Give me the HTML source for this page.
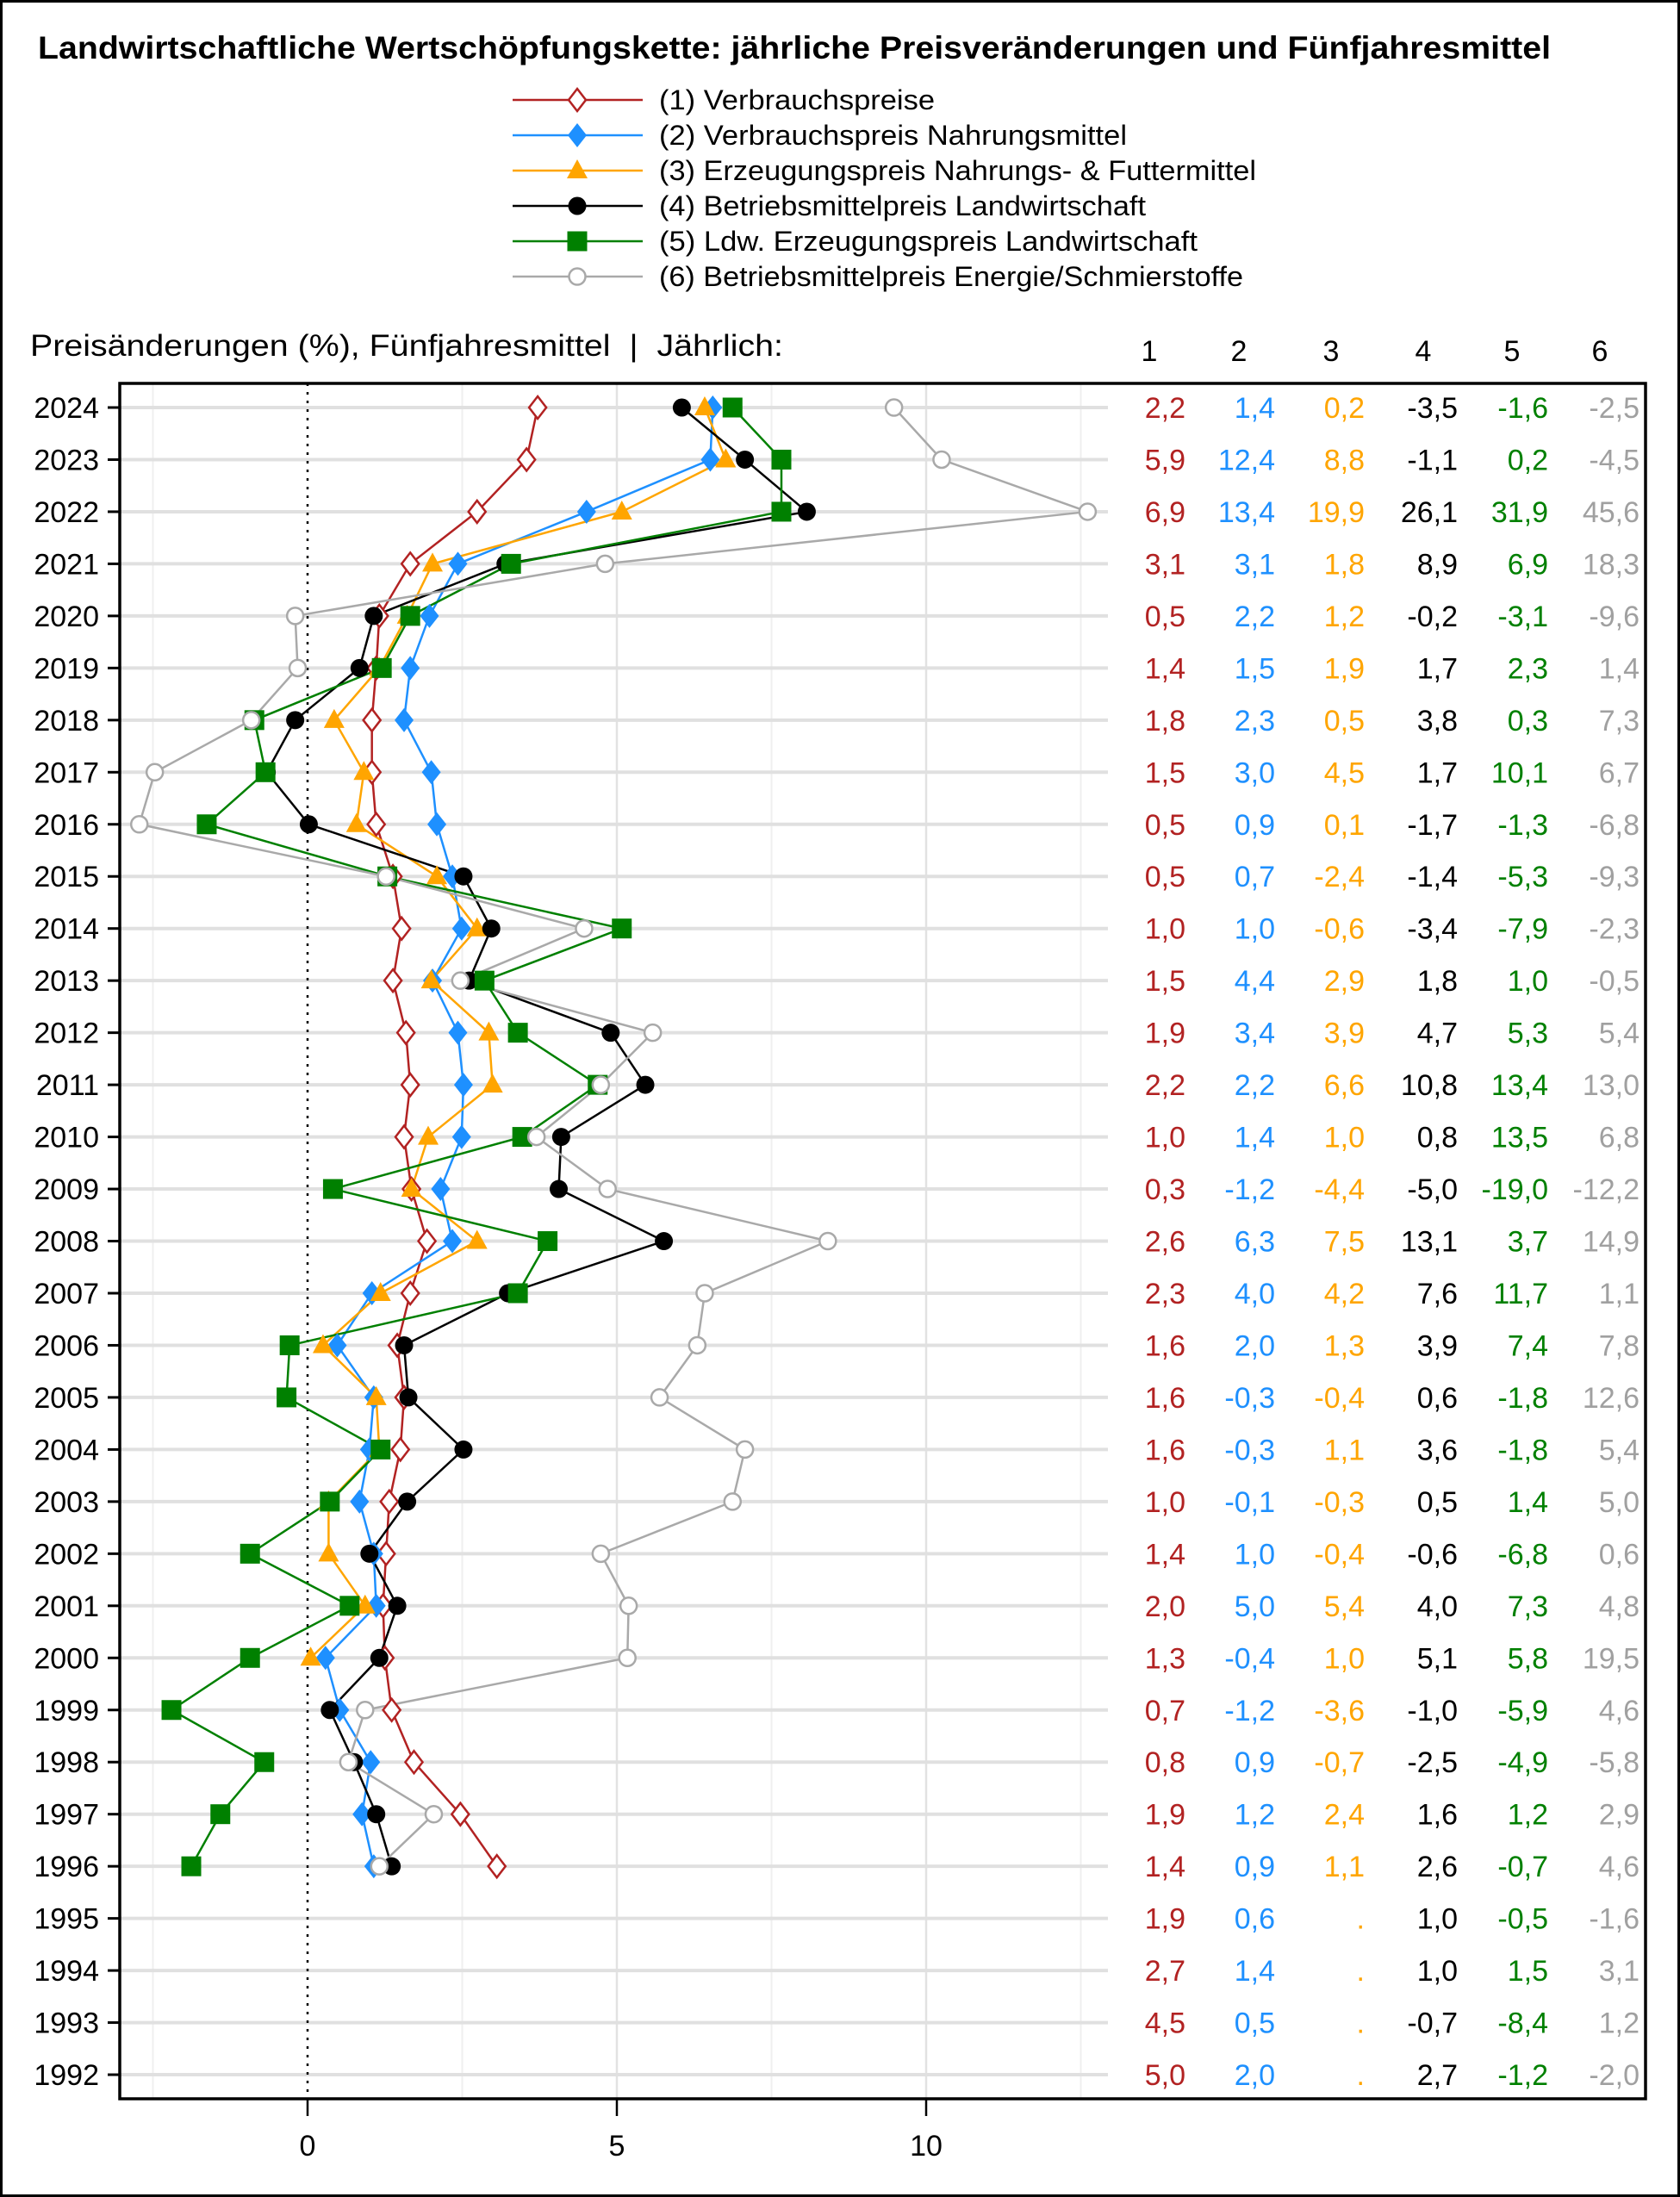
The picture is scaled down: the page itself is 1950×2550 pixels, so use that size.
<!DOCTYPE html>
<html><head><meta charset="utf-8">
<style>
html,body{margin:0;padding:0;background:#fff;}
svg{display:block;font-family:"Liberation Sans",Arial,sans-serif;}
</style></head>
<body>
<svg id="s" width="1950" height="2550" viewBox="0 0 1950 2550" xmlns="http://www.w3.org/2000/svg">
<rect x="1.5" y="1.5" width="1947" height="2547" fill="#fff" stroke="#000" stroke-width="3"/>
<text x="44" y="68" font-size="37" font-weight="bold" textLength="1756" lengthAdjust="spacingAndGlyphs">Landwirtschaftliche Wertschöpfungskette: jährliche Preisveränderungen und Fünfjahresmittel</text>
<text x="35" y="413" font-size="35" textLength="874" lengthAdjust="spacingAndGlyphs" xml:space="preserve">Preisänderungen (%), Fünfjahresmittel  |  Jährlich:</text>
</svg>
<script>
var NS="http://www.w3.org/2000/svg",S=document.getElementById("s");
function el(t,a,txt){var e=document.createElementNS(NS,t);for(var k in a)e.setAttribute(k,a[k]);if(txt!==undefined)e.textContent=txt;S.appendChild(e);return e;}
function X(v){return 357+v*71.8;}
function Y(y){return 473+(2024-y)*60.47;}
var L=139,R=1910,T=445,B=2436;
[-2.5,2.5,7.5,12.5].forEach(function(v){el("line",{x1:X(v),x2:X(v),y1:T,y2:B,stroke:"#efefef","stroke-width":2});});
[5,10].forEach(function(v){el("line",{x1:X(v),x2:X(v),y1:T,y2:B,stroke:"#e2e2e2","stroke-width":2.5});});
for(var y=1992;y<=2024;y++){el("line",{x1:L,x2:1286,y1:Y(y),y2:Y(y),stroke:"#e0e0e0","stroke-width":4});
 el("line",{x1:125,x2:L,y1:Y(y),y2:Y(y),stroke:"#000","stroke-width":3});
 el("text",{x:115,y:Y(y)+12,"font-size":34,"text-anchor":"end"},String(y));}
el("line",{x1:X(0),x2:X(0),y1:T,y2:B,stroke:"#000","stroke-width":2.5,"stroke-dasharray":"3,7"});
el("rect",{x:L,y:T,width:R-L,height:B-T,fill:"none",stroke:"#000","stroke-width":3.5});
[0,5,10].forEach(function(v){el("line",{x1:X(v),x2:X(v),y1:B,y2:2456,stroke:"#000","stroke-width":2.5});
 el("text",{x:X(v),y:2502,"font-size":34,"text-anchor":"middle"},String(v));});
var cols=["#b22222","#1e90ff","#ffa500","#000000","#008000","#a9a9a9"];
var D=[
[3.72,3.54,2.74,1.66,1.16,1.11,1.04,1.04,1.11,1.38,1.52,1.38,1.59,1.66,1.56,1.68,1.93,1.66,1.45,1.56,1.50,1.32,1.27,1.22,1.25,1.36,1.72,2.47,3.06],
[6.55,6.51,4.51,2.43,1.97,1.66,1.56,2.0,2.09,2.34,2.49,2.02,2.43,2.52,2.49,2.15,2.34,1.04,0.48,1.07,1.0,0.84,1.07,1.11,0.29,0.52,1.02,0.88,1.07],
[6.42,6.76,5.08,2.02,1.61,1.16,0.43,0.91,0.79,2.09,2.74,2.0,2.93,2.99,1.95,1.68,2.74,1.18,0.25,1.11,1.16,0.34,0.34,0.93,0.05],
[6.05,7.07,8.07,3.20,1.07,0.84,-0.20,-0.66,0.02,2.52,2.97,2.61,4.90,5.46,4.10,4.06,5.76,3.24,1.56,1.63,2.52,1.61,1.0,1.45,1.16,0.36,0.75,1.11,1.36],
[6.87,7.66,7.66,3.29,1.66,1.20,-0.86,-0.68,-1.63,1.29,5.08,2.86,3.40,4.69,3.47,0.41,3.88,3.40,-0.29,-0.34,1.18,0.36,-0.93,0.68,-0.93,-2.20,-0.70,-1.41,-1.88],
[9.48,10.25,12.61,4.81,-0.20,-0.16,-0.91,-2.47,-2.72,1.27,4.47,2.47,5.58,4.74,3.70,4.85,8.41,6.42,6.30,5.69,7.07,6.87,4.74,5.19,5.17,0.93,0.66,2.04,1.16]];
function marker(k,cx,cy){var c=cols[k];
 if(k==0)el("polygon",{points:[cx,cy-13,cx+10,cy,cx,cy+13,cx-10,cy].join(","),fill:"#fff",stroke:c,"stroke-width":2.5});
 else if(k==1)el("polygon",{points:[cx,cy-14,cx+11,cy,cx,cy+14,cx-11,cy].join(","),fill:c});
 else if(k==2)el("polygon",{points:[cx,cy-13,cx+12,cy+9,cx-12,cy+9].join(","),fill:c});
 else if(k==3)el("circle",{cx:cx,cy:cy,r:10.5,fill:c});
 else if(k==4)el("rect",{x:cx-11.5,y:cy-11.5,width:23,height:23,fill:c});
 else el("circle",{cx:cx,cy:cy,r:9.5,fill:"#fff",stroke:c,"stroke-width":2.5});}
D.forEach(function(a,k){var p=a.map(function(v,i){return X(v)+","+Y(2024-i);}).join(" ");
 el("polyline",{points:p,fill:"none",stroke:cols[k],"stroke-width":2.5});});
D.forEach(function(a,k){a.forEach(function(v,i){marker(k,X(v),Y(2024-i));});});
var leg=["(1) Verbrauchspreise","(2) Verbrauchspreis Nahrungsmittel","(3) Erzeugungspreis Nahrungs- & Futtermittel","(4) Betriebsmittelpreis Landwirtschaft","(5) Ldw. Erzeugungspreis Landwirtschaft","(6) Betriebsmittelpreis Energie/Schmierstoffe"];
var lw=[320,543,693,565,625,678];
var ly=[116,157,198,239,280,321];
leg.forEach(function(t,k){el("line",{x1:595,x2:746,y1:ly[k],y2:ly[k],stroke:cols[k],"stroke-width":2.5});marker(k,670,ly[k]);
 el("text",{x:765,y:ly[k]+11,"font-size":32,textLength:lw[k],lengthAdjust:"spacingAndGlyphs"},t);});
var T6=[
["2,2","1,4","0,2","-3,5","-1,6","-2,5"],["5,9","12,4","8,8","-1,1","0,2","-4,5"],["6,9","13,4","19,9","26,1","31,9","45,6"],
["3,1","3,1","1,8","8,9","6,9","18,3"],["0,5","2,2","1,2","-0,2","-3,1","-9,6"],["1,4","1,5","1,9","1,7","2,3","1,4"],
["1,8","2,3","0,5","3,8","0,3","7,3"],["1,5","3,0","4,5","1,7","10,1","6,7"],["0,5","0,9","0,1","-1,7","-1,3","-6,8"],
["0,5","0,7","-2,4","-1,4","-5,3","-9,3"],["1,0","1,0","-0,6","-3,4","-7,9","-2,3"],["1,5","4,4","2,9","1,8","1,0","-0,5"],
["1,9","3,4","3,9","4,7","5,3","5,4"],["2,2","2,2","6,6","10,8","13,4","13,0"],["1,0","1,4","1,0","0,8","13,5","6,8"],
["0,3","-1,2","-4,4","-5,0","-19,0","-12,2"],["2,6","6,3","7,5","13,1","3,7","14,9"],["2,3","4,0","4,2","7,6","11,7","1,1"],
["1,6","2,0","1,3","3,9","7,4","7,8"],["1,6","-0,3","-0,4","0,6","-1,8","12,6"],["1,6","-0,3","1,1","3,6","-1,8","5,4"],
["1,0","-0,1","-0,3","0,5","1,4","5,0"],["1,4","1,0","-0,4","-0,6","-6,8","0,6"],["2,0","5,0","5,4","4,0","7,3","4,8"],
["1,3","-0,4","1,0","5,1","5,8","19,5"],["0,7","-1,2","-3,6","-1,0","-5,9","4,6"],["0,8","0,9","-0,7","-2,5","-4,9","-5,8"],
["1,9","1,2","2,4","1,6","1,2","2,9"],["1,4","0,9","1,1","2,6","-0,7","4,6"],["1,9","0,6",".","1,0","-0,5","-1,6"],
["2,7","1,4",".","1,0","1,5","3,1"],["4,5","0,5",".","-0,7","-8,4","1,2"],["5,0","2,0",".","2,7","-1,2","-2,0"]];
var cx=[1376,1480,1584,1692,1797,1903],hx=[1334,1438,1545,1652,1755,1857];
var tc=["#b22222","#1e90ff","#ffa500","#000","#008000","#a0a0a0"];
hx.forEach(function(x,k){el("text",{x:x,y:419,"font-size":34,"text-anchor":"middle"},String(k+1));});
T6.forEach(function(r,i){r.forEach(function(t,k){el("text",{x:cx[k],y:Y(2024-i)+12,"font-size":34,"text-anchor":"end",fill:tc[k]},t);});});
</script>
</body></html>
